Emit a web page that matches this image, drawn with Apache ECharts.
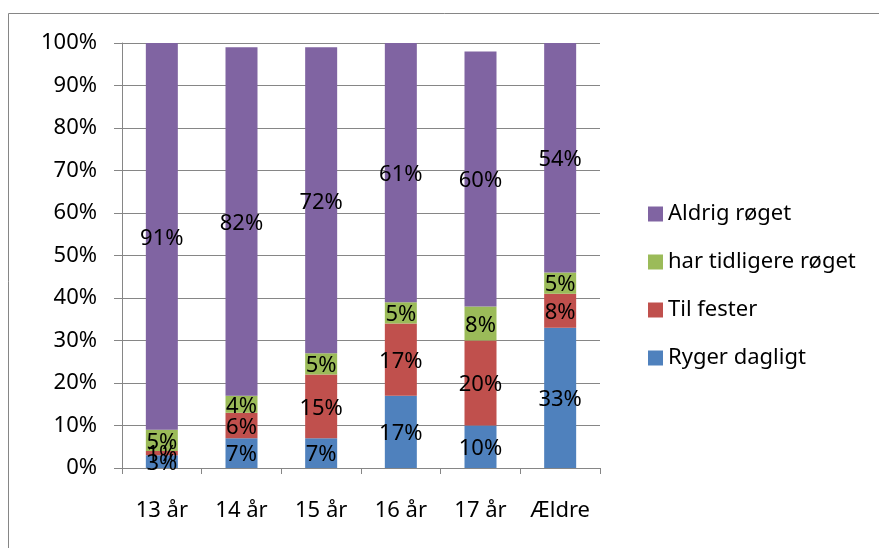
<!DOCTYPE html>
<html>
<head>
<meta charset="utf-8">
<script src="https://cdn.jsdelivr.net/npm/echarts@6/dist/echarts.min.js"></script>
<style>
  html, body { margin: 0; padding: 0; background: #fff; }
  #chart { width: 879px; height: 548px; }
</style>
</head>
<body>
<div id="chart"></div>
<script>
const categories = ['13 år', '14 år', '15 år', '16 år', '17 år', 'Ældre'];
const rygerDagligt = [3, 7, 7, 17, 10, 33];
const tilFester = [1, 6, 15, 17, 20, 8];
const tidligereRoget = [5, 4, 5, 5, 8, 5];
const aldrigRoget = [91, 82, 72, 61, 60, 54];
const yTicks = [0, 10, 20, 30, 40, 50, 60, 70, 80, 90, 100];

const font = '"Noto Sans", "Open Sans", sans-serif';
const gridColor = '#868686';

function barSeries(name, data, color) {
  return {
    name,
    type: 'bar',
    stack: 'total',
    data,
    barWidth: 32,
    itemStyle: { color },
    label: {
      show: true,
      position: 'inside',
      offset: [0, 2],
      formatter: p => p.value + '%',
      color: '#000',
      fontSize: 22,
      fontFamily: font
    }
  };
}

const chart = echarts.init(document.getElementById('chart'));
chart.setOption({
  animation: false,
  grid: { left: 122, right: 279, top: 43, bottom: 80 },
  graphic: [{
    type: 'rect',
    shape: { x: 8.5, y: 13.5, width: 1000, height: 1000 },
    style: { fill: 'none', stroke: gridColor, lineWidth: 1 },
    silent: true
  }],
  legend: {
    orient: 'vertical',
    left: 643,
    top: 198,
    itemWidth: 15,
    itemHeight: 15,
    itemGap: 26,
    icon: 'rect',
    selectedMode: false,
    data: ['Aldrig røget', 'har tidligere røget', 'Til fester', 'Ryger dagligt'],
    textStyle: { fontSize: 22, fontFamily: font, color: '#000' }
  },
  xAxis: {
    type: 'category',
    data: categories,
    axisLine: { lineStyle: { color: gridColor, width: 1 } },
    axisTick: { show: true, length: 6, lineStyle: { color: gridColor } },
    axisLabel: { margin: 32, fontSize: 22, fontFamily: font, color: '#000' },
    splitLine: { show: false }
  },
  yAxis: {
    type: 'value',
    min: yTicks[0],
    max: yTicks[yTicks.length - 1],
    interval: 10,
    axisLine: { show: true, lineStyle: { color: gridColor, width: 1 } },
    axisTick: { show: true, length: 8, lineStyle: { color: gridColor } },
    axisLabel: { margin: 25, formatter: '{value}%', fontSize: 22, fontFamily: font, color: '#000' },
    splitLine: { lineStyle: { color: gridColor, width: 1 } }
  },
  series: [
    barSeries('Ryger dagligt', rygerDagligt, '#4F81BD'),
    barSeries('Til fester', tilFester, '#C0504D'),
    barSeries('har tidligere røget', tidligereRoget, '#9BBB59'),
    barSeries('Aldrig røget', aldrigRoget, '#8064A2')
  ]
});
</script>
</body>
</html>
